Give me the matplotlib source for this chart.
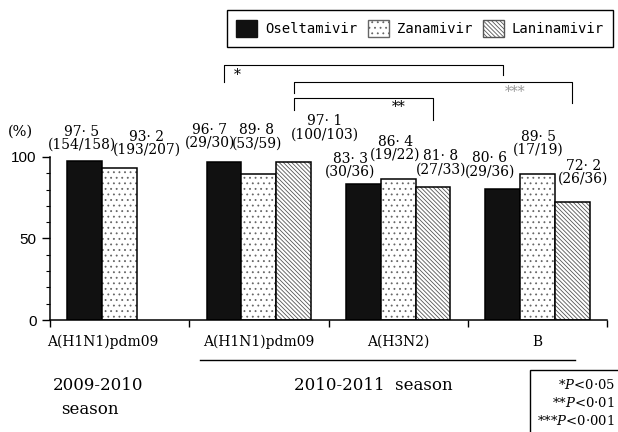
import matplotlib
matplotlib.use('Agg')
import matplotlib.pyplot as plt
import matplotlib.transforms as mtransforms
from matplotlib.patches import Patch, Rectangle
from matplotlib.lines import Line2D
from matplotlib.ticker import MultipleLocator
import numpy as np

plt.rcParams['font.family'] = 'DejaVu Serif'
plt.rcParams['mathtext.fontset'] = 'dejavuserif'
plt.rcParams['hatch.linewidth'] = 0.6

# data
drugs = ['Oseltamivir', 'Zanamivir', 'Laninamivir']
groups = ['A(H1N1)pdm09', 'A(H1N1)pdm09', 'A(H3N2)', 'B']
oseltamivir = [97.5, 96.7, 83.3, 80.6]
zanamivir = [93.2, 89.8, 86.4, 89.5]
laninamivir = [None, 97.1, 81.8, 72.2]
oseltamivir_n = ['154/158', '29/30', '30/36', '29/36']
zanamivir_n = ['193/207', '53/59', '19/22', '17/19']
laninamivir_n = [None, '100/103', '27/33', '26/36']
# significance: (drug index, group a, group b, stars)
comparisons = [(0, 1, 3, '*'), (2, 1, 3, '***'), (2, 1, 2, '**')]
p_notes = [r'*$P$<0·05', r'**$P$<0·01', r'***$P$<0·001']

W, H = 618, 432
fig = plt.figure(figsize=(6.18, 4.32), dpi=100)


def fx(px):
    return px / W


def fy(py):
    return 1 - py / H


ax = fig.add_axes([fx(50), fy(320), fx(607) - fx(50), (320 - 157) / H])

series = [oseltamivir, zanamivir, laninamivir]
counts = [oseltamivir_n, zanamivir_n, laninamivir_n]
offsets = [-0.25, 0, 0.25]
width = 0.25
fills = ['#111111', 'white', 'white']
hatches = ['', '...', '\\\\\\\\\\\\\\\\']
hatch_cols = ['#111111', '#666666', '#555555']

# label nudges in pixels (dx, dy above bar top to block centre)
nudges = [
    [(-3, 23), (-14, 26), (-13, 19), (-13, 24)],
    [(27, 25), (-2, 37), (-3, 31), (1, 31)],
    [None, (31, 34), (8, 24), (11, 30)],
]

x = np.arange(len(groups))
for k in range(3):
    for g in range(len(groups)):
        v = series[k][g]
        if v is None:
            continue
        xp = x[g] + offsets[k]
        ax.bar(xp, v, width, color=fills[k], hatch=hatches[k],
               edgecolor=hatch_cols[k], linewidth=0)
        ax.bar(xp, v, width, fill=False, edgecolor='black', linewidth=1.1)
        dx, dy = nudges[k][g]
        txt = f"{v:.1f}".replace('.', '· ') + f"\n({counts[k][g]})"
        ax.annotate(txt, xy=(xp, v), xytext=(dx * 0.72, dy * 0.72),
                    textcoords='offset points', ha='center', va='center',
                    fontsize=10, linespacing=0.92, annotation_clip=False)

ax.set_xlim(-0.5, 3.5)
ax.set_ylim(0, 100)
ax.set_xticks(np.arange(-0.5, 4, 1))
ax.set_xticklabels([])
ax.set_yticks([0, 50, 100])
ax.yaxis.set_minor_locator(MultipleLocator(10))
ax.tick_params(axis='x', direction='out', length=5, width=1)
ax.tick_params(axis='y', which='major', direction='out', length=6, width=1,
               labelsize=11, labelfontfamily='Liberation Sans')
ax.tick_params(axis='y', which='minor', direction='out', length=3, width=0.8)
for s in ['top', 'right']:
    ax.spines[s].set_visible(False)
ax.spines['left'].set_bounds(0, 100)
ax.spines['left'].set_linewidth(1.1)
ax.spines['bottom'].set_linewidth(1.1)

ax.text(fx(20), fy(132), '(%)', transform=fig.transFigure, ha='center',
        va='center', fontsize=10.5)

# significance brackets (y in px)
py2d = lambda py: (320 - py) / 1.63
bracket_px = [(65, 82, 75, 75, 237), (82, 93, 103, 92, 515), (98, 110, 120, 107, 399)]
for (k, ga, gb, stars), (top, yl, yr, ty, tx) in zip(comparisons, bracket_px):
    xa = x[ga] + offsets[k]
    xb = x[gb] + offsets[k]
    ax.plot([xa, xa, xb, xb], [py2d(yl), py2d(top), py2d(top), py2d(yr)],
            color='black', lw=0.8, clip_on=False)
    ax.text(fx(tx), fy(ty), stars, transform=fig.transFigure, ha='center',
            va='center', fontsize=10,
            color='#999999' if stars == '***' else 'black')

# category labels
trans = mtransforms.blended_transform_factory(ax.transData, fig.transFigure)
label_x = [x[0] - 0.125, x[1], x[2], x[3]]
for lx, name in zip(label_x, groups):
    ax.text(lx, fy(342), name, transform=trans, ha='center', va='center',
            fontsize=10)

fig.add_artist(Line2D([fx(200), fx(575)], [fy(360), fy(360)],
                      transform=fig.transFigure, color='black', lw=1))
fig.text(fx(98), fy(385), '2009-2010', ha='center', va='center', fontsize=12)
fig.text(fx(90), fy(410), 'season', ha='center', va='center', fontsize=12)
fig.text(fx(373), fy(385), '2010-2011  season', ha='center', va='center',
         fontsize=12)

fig.add_artist(Rectangle((fx(530), fy(440)), fx(120), (440 - 370) / H,
                         transform=fig.transFigure, fill=False, lw=1,
                         edgecolor='black'))
for i, note in enumerate(p_notes):
    fig.text(fx(615), fy(385 + 18 * i), note, ha='right', va='center',
             fontsize=9.5)

handles = [Patch(facecolor=fills[k], hatch=hatches[k], edgecolor=hatch_cols[k])
           for k in range(3)]
leg = fig.legend(handles, drugs, loc='center', bbox_to_anchor=(fx(420), fy(28.5)),
                 ncol=3, fancybox=False, edgecolor='black', framealpha=1,
                 prop={'family': 'DejaVu Sans Mono', 'size': 10},
                 handlelength=1.5, handleheight=1.5, handletextpad=0.55,
                 columnspacing=0.8, borderpad=0.7)
leg.get_frame().set_linewidth(1)

fig.savefig('out.png', dpi=100)
